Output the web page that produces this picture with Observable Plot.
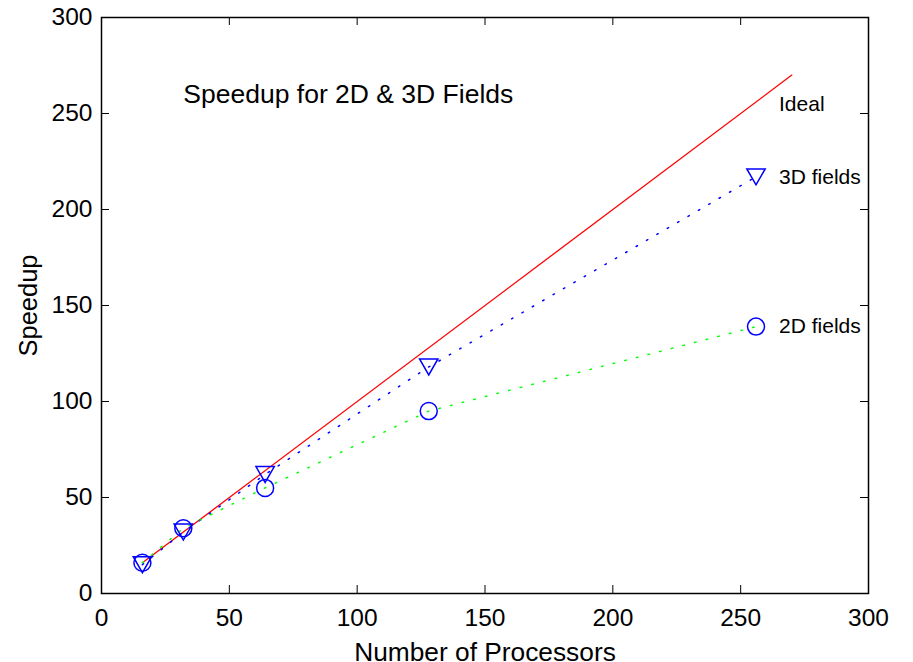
<!DOCTYPE html>
<html><head><meta charset="utf-8">
<script src="https://cdn.jsdelivr.net/npm/d3@7"></script>
<script src="https://cdn.jsdelivr.net/npm/@observablehq/plot@0.6"></script>
<style>html,body{margin:0;padding:0;background:#fff} svg{display:block}</style>
</head><body><div id="chart"></div>
<script>
// ---- data ----
const processors = [16, 32, 64, 128, 256];
const speedup3D = [15, 32, 62, 118, 217];
const speedup2D = [16, 34, 55, 95, 139];
const idealX = [16, 270];
const xTicks = [0, 50, 100, 150, 200, 250, 300];
const yTicks = [0, 50, 100, 150, 200, 250, 300];
const labelNames = ["Ideal", "3D fields", "2D fields"];
const labelX = [265, 265, 265];
const labelY = [255, 217, 139];
const titleText = "Speedup for 2D & 3D Fields";
const titleX = 32, titleY = 260;
const xLabel = "Number of Processors";
const yLabel = "Speedup";

// ---- tables ----
const ideal = idealX.map(v => ({x: v, y: v}));
const s3 = processors.map((p, i) => ({x: p, y: speedup3D[i]}));
const s2 = processors.map((p, i) => ({x: p, y: speedup2D[i]}));
const labels = labelNames.map((t, i) => ({t, x: labelX[i], y: labelY[i]}));

const W = 913, H = 662, mL = 101, mR = 45, mT = 17, mB = 69;
const innerW = W - mL - mR, innerH = H - mT - mB, tk = 8;

const triangleDown = {
  draw(ctx, size) {
    const w = Math.sqrt(size) * 1.4, h = w * 0.866;
    ctx.moveTo(-w / 2, -h / 2);
    ctx.lineTo(w / 2, -h / 2);
    ctx.lineTo(0, h / 2);
    ctx.closePath();
  }
};

const blue = "#0000ff", green = "#00ff00", red = "#ff0000";

const chart = Plot.plot({
  width: W, height: H,
  marginLeft: mL, marginRight: mR, marginTop: mT, marginBottom: mB,
  style: {fontFamily: "'Liberation Sans', Arial, Helvetica, sans-serif", fontSize: "24px", color: "#000", background: "#fff"},
  x: {domain: [0, 300]},
  y: {domain: [0, 300]},
  marks: [
    // inward ticks on all four sides
    Plot.tickX(xTicks, {x: d => d, insetTop: innerH - tk, stroke: "#000"}),
    Plot.tickX(xTicks, {x: d => d, insetBottom: innerH - tk, stroke: "#000"}),
    Plot.tickY(yTicks, {y: d => d, insetRight: innerW - tk, stroke: "#000"}),
    Plot.tickY(yTicks, {y: d => d, insetLeft: innerW - tk, stroke: "#000"}),
    Plot.axisX(xTicks, {tickSize: 0, tickPadding: 15, label: null, fontSize: 24.5}),
    Plot.axisY(yTicks, {tickSize: 0, tickPadding: 9, label: null, fontSize: 24.5}),
    Plot.frame({stroke: "#000", strokeWidth: 1.5}),
    // ideal
    Plot.line(ideal, {x: "x", y: "y", stroke: red, strokeWidth: 1.3}),
    // series lines
    Plot.line(s3, {x: "x", y: "y", stroke: blue, strokeWidth: 1.5, strokeDasharray: "1.5,10.5"}),
    Plot.line(s2, {x: "x", y: "y", stroke: green, strokeWidth: 1.5, strokeDasharray: "1.5,10.5"}),
    // markers
    Plot.dot(s3, {x: "x", y: "y", r: 7.4, symbol: triangleDown, stroke: blue, strokeWidth: 1.5, fill: "none"}),
    Plot.dot(s2, {x: "x", y: "y", r: 8.5, symbol: "circle", stroke: blue, strokeWidth: 1.5, fill: "none"}),
    // annotations
    Plot.text(labels, {x: "x", y: "y", text: "t", textAnchor: "start", fontSize: 21, fill: "#000"}),
    Plot.text([titleText], {x: titleX, y: titleY, text: d => d, textAnchor: "start", fontSize: 26.5, fill: "#000"}),
    Plot.text([xLabel], {frameAnchor: "bottom", dy: 67, lineAnchor: "bottom", textAnchor: "middle", text: d => d, fontSize: 26.3, fill: "#000"}),
    Plot.text([yLabel], {frameAnchor: "left", dx: -65, rotate: -90, lineAnchor: "bottom", textAnchor: "middle", text: d => d, fontSize: 25.5, fill: "#000"})
  ]
});
document.getElementById("chart").appendChild(chart);
</script>
</body></html>
